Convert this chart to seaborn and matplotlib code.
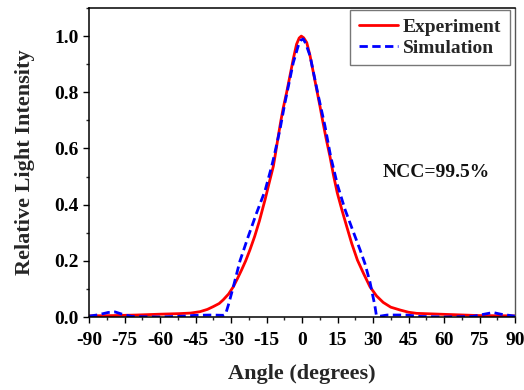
import matplotlib
matplotlib.use("Agg")
import matplotlib.pyplot as plt
from matplotlib.ticker import MultipleLocator
import pandas as pd
import seaborn as sns

# ---- data ----
exp_angle = [-90, -80, -70, -60, -52, -47, -43.1, -40, -37.5, -35, -33.3, -31,
             -29, -27.2, -25.5, -23.8, -22, -20, -18, -15.6, -13.8, -12.1, -11.4,
             -10, -8.9, -7.9, -6.5, -5.1, -3.7, -2.3, -1.2, -0.3, 0.7, 2.0, 3.4,
             4.8, 6.2, 7.6, 8.6, 10.2, 11.8, 13.3, 14.9, 16.9, 18.9, 21, 23.4,
             26, 28.7, 31.5, 34.3, 37.5, 41.4, 45, 48.4, 55, 65, 75, 90]
exp_val = [0.004, 0.005, 0.007, 0.010, 0.012, 0.014, 0.019, 0.027, 0.037, 0.048,
           0.061, 0.082, 0.108, 0.138, 0.168, 0.200, 0.239, 0.287, 0.342, 0.418,
           0.480, 0.537, 0.572, 0.645, 0.700, 0.745, 0.799, 0.858, 0.918, 0.971,
           0.993, 1.000, 0.994, 0.977, 0.930, 0.870, 0.810, 0.750, 0.704, 0.635,
           0.572, 0.505, 0.442, 0.380, 0.322, 0.262, 0.203, 0.155, 0.108, 0.075,
           0.052, 0.035, 0.025, 0.017, 0.013, 0.011, 0.008, 0.005, 0.004]

sim_angle = [-90, -86, -82, -79, -76, -72, -60, -50, -45, -38, -33.3, -32.3,
             -31.1, -29, -26.2, -22.7, -19.2, -15.6, -12.8, -11.8, -9.3, -7.2,
             -3.7, -1.6, -0.5, 0.5, 1.5, 3.4, 6.9, 9.7, 12.1, 15, 18.2, 22.4,
             24.5, 26.6, 28.7, 30.8, 31.4, 33, 36, 44, 50, 60, 72, 77, 80.7, 84, 90]
sim_val = [0.003, 0.008, 0.016, 0.018, 0.010, 0.002, 0.000, 0.003, 0.006, 0.007,
           0.006, 0.010, 0.043, 0.108, 0.200, 0.287, 0.370, 0.450, 0.537, 0.572,
           0.668, 0.763, 0.905, 0.965, 0.985, 0.990, 0.975, 0.930, 0.787, 0.680,
           0.572, 0.470, 0.382, 0.287, 0.240, 0.190, 0.125, 0.040, 0.007, 0.003,
           0.007, 0.007, 0.002, 0.000, 0.002, 0.010, 0.016, 0.010, 0.003]

series_names = ["Experiment", "Simulation"]
x_ticks = list(range(-90, 91, 15))
y_ticks = [0.0, 0.2, 0.4, 0.6, 0.8, 1.0]
annotation = "NCC=99.5%"

df = pd.concat([
    pd.DataFrame({"Angle": exp_angle, "Intensity": exp_val, "Series": series_names[0]}),
    pd.DataFrame({"Angle": sim_angle, "Intensity": sim_val, "Series": series_names[1]}),
], ignore_index=True)

sns.set_style("ticks")
plt.rcParams["font.family"] = ["Liberation Serif", "DejaVu Serif"]
plt.rcParams["font.weight"] = "bold"
plt.rcParams["axes.labelweight"] = "bold"

fig = plt.figure(figsize=(5.24, 3.90), dpi=100)
ax = fig.add_axes([89 / 524, 1 - 317 / 390, (515 - 89) / 524, (317 - 8) / 390])

sns.lineplot(data=df, x="Angle", y="Intensity", hue="Series", style="Series",
             palette={"Experiment": "#ff0000", "Simulation": "#0000ff"},
             dashes={"Experiment": "", "Simulation": (3.0, 1.6)},
             linewidth=2.0, sort=False, estimator=None, ax=ax, legend=True)

ax.set_xlim(-90, 90)
ax.set_ylim(0, 1.1)
ax.set_xticks(x_ticks)
ax.set_xticklabels([str(t) for t in x_ticks])
ax.set_yticks(y_ticks)
ax.set_yticklabels([f"{t:.1f}" for t in y_ticks])
ax.xaxis.set_minor_locator(MultipleLocator(7.5))
ax.yaxis.set_minor_locator(MultipleLocator(0.1))
ax.tick_params(which="major", direction="out", length=4.5, width=1.0,
               labelsize=14, colors="black")
ax.tick_params(which="minor", direction="out", length=2.5, width=1.0)
ax.tick_params(axis="x", which="major", pad=6)
ax.tick_params(axis="y", which="major", pad=3)
for lab in ax.get_xticklabels() + ax.get_yticklabels():
    lab.set_fontweight("bold")

for side in ["left", "bottom", "top"]:
    ax.spines[side].set_visible(True)
    ax.spines[side].set_color("black")
    ax.spines[side].set_linewidth(1.1)
ax.spines["right"].set_visible(True)
ax.spines["right"].set_color("#555555")
ax.spines["right"].set_linewidth(1.0)

ax.set_xlabel("Angle (degrees)", fontsize=16, fontweight="bold", labelpad=11)
ax.set_ylabel("Relative Light Intensity", fontsize=16, fontweight="bold", labelpad=14)

ax.text(34, 0.515, annotation, fontsize=14, fontweight="bold",
        ha="left", va="center", color="#111111")

handles, labels = ax.get_legend_handles_labels()
leg = ax.legend(handles, labels, loc="upper right",
                bbox_to_anchor=(0.988, 0.994), frameon=True, fancybox=False,
                edgecolor="#777777", framealpha=1,
                prop={"size": 14, "weight": "bold", "family": "Liberation Serif"},
                handlelength=2.0, handletextpad=0.25, labelspacing=0.15,
                borderpad=0.45, borderaxespad=0)
leg.get_frame().set_linewidth(1.0)

fig.savefig("out.png", dpi=100)
